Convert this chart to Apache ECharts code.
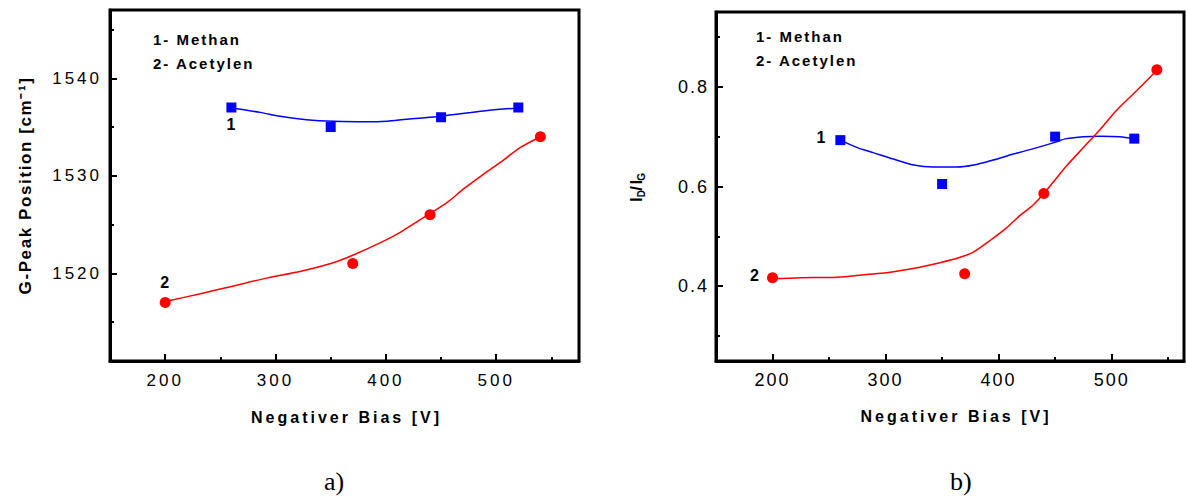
<!DOCTYPE html>
<html><head><meta charset="utf-8">
<script src="https://cdn.jsdelivr.net/npm/echarts@6/dist/echarts.min.js"></script>
<style>
html,body{margin:0;padding:0;background:#fff;}
#chart{width:1186px;height:497px;}
#chart text[style*="17px"]{letter-spacing:3px;}
#chart text[style*="18px"]{letter-spacing:2px;}
#chart text[style*="bold"]{letter-spacing:2px;}
#chart text[style*="bold"][style*="17px"]{letter-spacing:1.6px;}
#chart text[style*="bold"][style*="16px"]{letter-spacing:3px;}
</style></head><body><div id="chart"></div>
<script>
// ---------- data: panel a) G-peak position ----------
const methanBiasA = [260, 350, 450, 520];
const methanGPeak = [1537, 1535, 1536, 1537];
const acetylenBiasA = [200, 370, 440, 540];
const acetylenGPeak = [1517, 1521, 1526, 1534];
const methanFitBiasA = [260, 286, 304, 328, 353, 383, 401, 419, 446, 462, 477, 492, 520];
const methanFitGPeak = [1536.95, 1536.5, 1536.1, 1535.75, 1535.58, 1535.53, 1535.6, 1535.8, 1536.05, 1536.28, 1536.48, 1536.7, 1536.95];
const acetylenFitBiasA = [200, 232, 262, 292, 323, 353, 371, 398, 413, 441, 456, 471, 489, 504, 522, 540];
const acetylenFitGPeak = [1517.1, 1517.9, 1518.7, 1519.5, 1520.2, 1521.1, 1521.9, 1523.3, 1524.2, 1526.2, 1527.3, 1528.7, 1530.2, 1531.4, 1532.9, 1534.0];

// ---------- data: panel b) ID/IG ----------
const methanBiasB = [260, 350, 450, 520];
const methanRatio = [0.693, 0.605, 0.700, 0.696];
const acetylenBiasB = [200, 370, 440, 540];
const acetylenRatio = [0.417, 0.425, 0.586, 0.834];
const methanFitBiasB = [260, 275, 289, 307, 325, 342, 363, 378, 395, 413, 431, 449, 460, 475, 490, 507, 520];
const methanFitRatio = [0.693, 0.678, 0.668, 0.655, 0.643, 0.639, 0.639, 0.643, 0.653, 0.665, 0.676, 0.688, 0.696, 0.700, 0.701, 0.700, 0.696];
const acetylenFitBiasB = [200, 225, 257, 283, 301, 328, 348, 366, 378, 395, 407, 419, 431, 443, 460, 475, 490, 504, 522, 540];
const acetylenFitRatio = [0.415, 0.417, 0.418, 0.4235, 0.427, 0.437, 0.447, 0.458, 0.469, 0.496, 0.517, 0.542, 0.564, 0.594, 0.641, 0.678, 0.715, 0.752, 0.792, 0.833];

// ---------- ticks / labels ----------
const biasMajorTicks = [200, 300, 400, 500];
const biasMinorTicks = [250, 350, 450, 550];
const gPeakMajorTicks = [1520, 1530, 1540];
const gPeakMinorTicks = [1515, 1525, 1535, 1545];
const ratioMajorTicks = [0.4, 0.6, 0.8];
const ratioMinorTicks = [0.3, 0.5, 0.7, 0.9];
const legendLines = ['1- Methan', '2- Acetylen'];
const curveNames = ['1', '2'];
const xTitle = 'Negativer Bias [V]';
const yTitleA = 'G-Peak Position [cm\u207B\u00B9]';
const panelNames = ['a)', 'b)'];

const FONT = "'Liberation Sans', Arial, sans-serif";
const BLUE = '#0000ff', RED = '#ff0000';

const pairs = (xs, ys) => xs.map((x, i) => [x, ys[i]]);

function makeAxes(gridIndex, min, max, major, minor, labelSize, labelMargin, isX, extra) {
  const main = Object.assign({
    type: 'value', gridIndex, min, max,
    axisLine: { show: true, onZero: false, lineStyle: { color: '#000', width: 3 } },
    axisTick: { show: true, inside: true, length: 7, customValues: major, lineStyle: { color: '#000', width: 2 } },
    axisLabel: { show: true, customValues: major, fontSize: labelSize, color: '#000', fontFamily: FONT, margin: labelMargin,
                 formatter: v => String(v) },
    splitLine: { show: false }
  }, extra || {});
  const sub = {
    type: 'value', gridIndex, min, max, position: isX ? 'bottom' : 'left',
    axisLine: { show: false },
    axisTick: { show: true, inside: true, length: 4, customValues: minor, lineStyle: { color: '#000', width: 2 } },
    axisLabel: { show: false },
    splitLine: { show: false }
  };
  return [main, sub];
}

const xa = makeAxes(0, 150, 575, biasMajorTicks, biasMinorTicks, 17, 11, true, {
  name: xTitle, nameLocation: 'middle', nameGap: 48,
  nameTextStyle: { fontSize: 16, fontWeight: 'bold', color: '#000', fontFamily: FONT, padding: [0, 0, 0, 4] }
});
const xb = makeAxes(1, 150, 564, biasMajorTicks, biasMinorTicks, 18, 10, true, {
  name: xTitle, nameLocation: 'middle', nameGap: 47,
  nameTextStyle: { fontSize: 16, fontWeight: 'bold', color: '#000', fontFamily: FONT, padding: [0, 0, 0, 12] }
});
const ya = makeAxes(0, 1511, 1547, gPeakMajorTicks, gPeakMinorTicks, 17, 8, false, {
  name: yTitleA, nameLocation: 'middle', nameGap: 76,
  nameTextStyle: { fontSize: 17, fontWeight: 'bold', color: '#000', fontFamily: FONT }
});
const yb = makeAxes(1, 0.25, 0.95, ratioMajorTicks, ratioMinorTicks, 18, 7, false, {
  name: '{t|I}{s|D}{t|/I}{s|G}', nameLocation: 'middle', nameGap: 70,
  nameTextStyle: { rich: {
    t: { fontSize: 17, fontWeight: 'bold', color: '#000', fontFamily: FONT, lineHeight: 20 },
    s: { fontSize: 10, fontWeight: 'bold', color: '#000', fontFamily: FONT, verticalAlign: 'bottom', lineHeight: 12 }
  } }
});

function scatterData(xs, ys, labelOpt) {
  return xs.map((x, i) => i === 0 ? { value: [x, ys[i]], label: labelOpt } : { value: [x, ys[i]] });
}
const ptLabel = (text, extra) => Object.assign({ show: true, formatter: text, color: '#000', fontSize: 16, fontWeight: 'bold', fontFamily: FONT }, extra);

const option = {
  backgroundColor: '#fff',
  animation: false,
  grid: [
    { left: 110, top: 10, width: 469, height: 351, show: true, borderColor: '#000', borderWidth: 3, containLabel: false },
    { left: 716, top: 12, width: 468, height: 349, show: true, borderColor: '#000', borderWidth: 3, containLabel: false }
  ],
  xAxis: [xa[0], xa[1], xb[0], xb[1]],
  yAxis: [ya[0], ya[1], yb[0], yb[1]],
  series: [
    { type: 'line', xAxisIndex: 0, yAxisIndex: 0, data: pairs(methanFitBiasA, methanFitGPeak), showSymbol: false, smooth: 0.3, lineStyle: { color: BLUE, width: 1.5 }, z: 2 },
    { type: 'line', xAxisIndex: 0, yAxisIndex: 0, data: pairs(acetylenFitBiasA, acetylenFitGPeak), showSymbol: false, smooth: 0.3, lineStyle: { color: RED, width: 1.5 }, z: 2 },
    { type: 'scatter', xAxisIndex: 0, yAxisIndex: 0, symbol: 'rect', symbolSize: 10, itemStyle: { color: BLUE, opacity: 1 }, z: 3,
      data: scatterData(methanBiasA, methanGPeak, ptLabel(curveNames[0], { position: 'bottom', distance: 4, offset: [1, 0] })) },
    { type: 'scatter', xAxisIndex: 0, yAxisIndex: 0, symbol: 'circle', symbolSize: 11, itemStyle: { color: RED, opacity: 1 }, z: 3,
      data: scatterData(acetylenBiasA, acetylenGPeak, ptLabel(curveNames[1], { position: 'top', distance: 7, offset: [1, 0] })) },

    { type: 'line', xAxisIndex: 2, yAxisIndex: 2, data: pairs(methanFitBiasB, methanFitRatio), showSymbol: false, smooth: 0.3, lineStyle: { color: BLUE, width: 1.5 }, z: 2 },
    { type: 'line', xAxisIndex: 2, yAxisIndex: 2, data: pairs(acetylenFitBiasB, acetylenFitRatio), showSymbol: false, smooth: 0.3, lineStyle: { color: RED, width: 1.5 }, z: 2 },
    { type: 'scatter', xAxisIndex: 2, yAxisIndex: 2, symbol: 'rect', symbolSize: 10, itemStyle: { color: BLUE, opacity: 1 }, z: 3,
      data: scatterData(methanBiasB, methanRatio, ptLabel(curveNames[0], { position: 'left', distance: 7, offset: [0, -3] })) },
    { type: 'scatter', xAxisIndex: 2, yAxisIndex: 2, symbol: 'circle', symbolSize: 11, itemStyle: { color: RED, opacity: 1 }, z: 3,
      data: scatterData(acetylenBiasB, acetylenRatio, ptLabel(curveNames[1], { position: 'left', distance: 5, offset: [0, -2] })) }
  ],
  graphic: [
    { type: 'text', left: 153, top: 32, style: { text: legendLines[0], fill: '#000', fontSize: 15, fontWeight: 'bold', fontFamily: FONT } },
    { type: 'text', left: 153, top: 56, style: { text: legendLines[1], fill: '#000', fontSize: 15, fontWeight: 'bold', fontFamily: FONT } },
    { type: 'text', left: 756, top: 29, style: { text: legendLines[0], fill: '#000', fontSize: 15, fontWeight: 'bold', fontFamily: FONT } },
    { type: 'text', left: 756, top: 53, style: { text: legendLines[1], fill: '#000', fontSize: 15, fontWeight: 'bold', fontFamily: FONT } },
    { type: 'text', left: 324, top: 468, style: { text: panelNames[0], fill: '#000', fontSize: 26, fontFamily: "'Liberation Serif', 'Times New Roman', serif" } },
    { type: 'text', left: 950, top: 468, style: { text: panelNames[1], fill: '#000', fontSize: 26, fontFamily: "'Liberation Serif', 'Times New Roman', serif" } }
  ]
};

const chart = echarts.init(document.getElementById('chart'), null, { renderer: 'svg' });
chart.setOption(option);
</script></body></html>
